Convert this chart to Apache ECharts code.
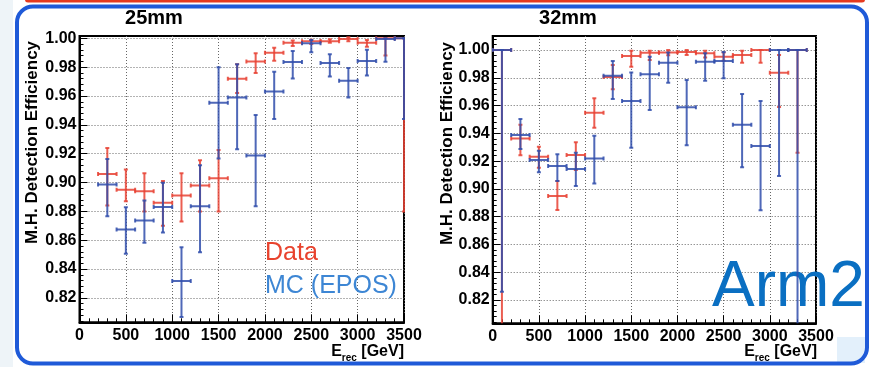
<!DOCTYPE html>
<html><head><meta charset="utf-8">
<script src="https://cdn.jsdelivr.net/npm/echarts@6/dist/echarts.min.js"></script>
<style>html,body{margin:0;padding:0;background:#fff;}#c{width:871px;height:367px;}</style>
</head><body><div id="c"></div>
<script>
// ---------- data ----------
const energyBins = [100,300,500,700,900,1100,1300,1500,1700,1900,2100,2300,2500,2700,2900,3100,3300,3500];
const binHalfWidth = 100;
const yTickLabels = [0.82,0.84,0.86,0.88,0.90,0.92,0.94,0.96,0.98,1.00];
const xTickLabels = [0,500,1000,1500,2000,2500,3000,3500];

// 25mm panel
const d25Val = [null,0.906,0.895,0.894,0.886,0.891,0.898,0.903,0.972,0.984,0.990,0.997,0.998,0.998,0.9995,0.997,1.000,1.000];
const d25Lo  = [null,0.884,0.887,0.880,0.870,0.873,0.880,0.880,0.962,0.976,0.9845,0.9947,0.996,0.997,0.998,0.9942,0.988,0.880];
const d25Hi  = [null,0.924,0.909,0.9065,0.901,0.9065,0.9155,0.9225,0.982,0.9896,0.9935,0.9984,0.999,0.9993,1.0007,0.9988,1.000,1.000];
const m25Val = [null,0.8986,0.8674,0.8736,0.8831,0.8317,0.8836,0.9553,0.959,0.9188,0.9632,0.9836,0.9965,0.9829,0.9706,0.9843,0.9995,1.000];
const m25Lo  = [null,0.8766,0.8507,0.8583,0.8653,0.8067,0.8516,0.9167,0.9231,0.8836,0.944,0.9722,0.9903,0.9736,0.959,0.9743,0.9838,0.944];
const m25Hi  = [null,0.9164,0.8829,0.8875,0.8998,0.8551,0.912,0.9799,0.982,0.9468,0.9769,0.9912,0.9988,0.9889,0.9794,0.9921,1.000,1.000];

// 32mm panel
const d32Val = [1.000,0.9362,0.9232,0.8949,0.9244,0.9549,0.9805,0.9957,0.9981,0.9983,0.9986,0.9976,0.9952,0.9964,1.000,0.9837,1.000,null];
const d32Lo  = [0.700,0.9242,0.9153,0.8848,0.9136,0.9441,0.9717,0.988,0.9928,0.9962,0.9964,0.9947,0.9923,0.9909,0.9909,0.959,0.926,null];
const d32Hi  = [1.000,0.9462,0.9304,0.9057,0.9335,0.9652,0.9892,0.9995,0.9995,1.000,1.000,0.9995,0.9983,0.9995,1.000,0.9964,1.000,null];
const m32Val = [1.000,0.9388,0.9208,0.9165,0.9143,0.9218,0.9815,0.9633,0.9825,0.9909,0.9587,0.9916,0.9921,0.9462,0.9309,1.000,1.000,null];
const m32Lo  = [0.826,0.9287,0.9119,0.9057,0.9021,0.9038,0.9647,0.9297,0.9568,0.9765,0.9314,0.9779,0.9796,0.9155,0.8846,0.9093,0.700,null];
const m32Hi  = [1.000,0.9503,0.9275,0.9249,0.9261,0.9383,0.9921,0.9839,0.9952,0.9983,0.9784,0.9976,0.9986,0.9683,0.9633,1.000,1.000,null];

// ---------- build ----------
const RED = 'rgba(232,66,52,0.85)';
const BLUE = 'rgba(48,78,172,0.85)';
const FONT = '"Liberation Sans", Arial, Helvetica, sans-serif';

function rows(val, lo, hi) {
  const out = [];
  energyBins.forEach((e, i) => { if (val[i] != null) out.push([e, val[i], lo[i], hi[i]]); });
  return out;
}
function errRender(color) {
  return function (params, api) {
    const x = api.value(0), y = api.value(1), lo = api.value(2), hi = api.value(3);
    const c = api.coord([x, y]), l = api.coord([x - binHalfWidth, y]), r = api.coord([x + binHalfWidth, y]);
    const a = api.coord([x, hi]), b = api.coord([x, lo]);
    const cap = 2;
    const st = { stroke: color, lineWidth: 2 };
    const ln = (x1, y1, x2, y2) => ({ type: 'line', shape: { x1, y1, x2, y2 }, style: st });
    return { type: 'group', children: [
      ln(l[0], c[1], r[0], c[1]),
      ln(c[0], a[1], c[0], b[1]),
      ln(l[0], c[1] - cap, l[0], c[1] + cap),
      ln(r[0], c[1] - cap, r[0], c[1] + cap),
      ln(c[0] - cap, a[1], c[0] + cap, a[1]),
      ln(c[0] - cap, b[1], c[0] + cap, b[1])
    ]};
  };
}
function minorVals(min, max) {
  const v = [];
  for (let k = Math.ceil(min / 0.004); k * 0.004 <= max + 1e-9; k++) {
    const t = +(k * 0.004).toFixed(4);
    if (Math.abs(t / 0.02 - Math.round(t / 0.02)) > 1e-6) v.push(t);
  }
  return v;
}
const grids = [
  { left: 79.5, top: 36, width: 324.5, height: 286.3, min: 0.8031, max: 1.0016 },
  { left: 492.7, top: 36, width: 323.3, height: 287.3, min: 0.8032, max: 1.0101 }
];
const gridOpt = [], xAxes = [], yAxes = [];
grids.forEach((g, i) => {
  gridOpt.push({ left: g.left, top: g.top, width: g.width, height: g.height, show: true,
    borderColor: '#000', borderWidth: 2, backgroundColor: 'transparent', containLabel: false });
  xAxes.push({ type: 'value', gridIndex: i, min: 0, max: 3500, interval: 500,
    axisLine: { show: true, lineStyle: { color: '#000', width: 2 } },
    axisTick: { show: true, inside: true, length: 8, lineStyle: { color: '#000', width: 1 } },
    minorTick: { show: true, splitNumber: 5, length: 4, lineStyle: { color: '#000', width: 1 } },
    axisLabel: { show: true, margin: 5, color: '#000', fontFamily: FONT, fontWeight: 'bold', fontSize: 16,
      showMinLabel: true, showMaxLabel: true, formatter: v => String(Math.round(v)) },
    splitLine: { show: true, lineStyle: { color: '#666', width: 1, type: [1, 2] } } });
  yAxes.push({ type: 'value', gridIndex: i, min: g.min, max: g.max, position: 'left',
    axisLine: { show: true, onZero: false, lineStyle: { color: '#000', width: 2 } },
    axisTick: { show: true, inside: true, length: 8, customValues: yTickLabels, lineStyle: { color: '#000', width: 1 } },
    axisLabel: { show: true, margin: 3, color: '#000', fontFamily: FONT, fontWeight: 'bold', fontSize: 16,
      customValues: yTickLabels, formatter: v => v.toFixed(2) },
    splitLine: { show: true, lineStyle: { color: '#666', width: 1, type: [1, 2] } } });
  yAxes.push({ type: 'value', gridIndex: i, min: g.min, max: g.max, position: 'left', offset: 0,
    axisLine: { show: false }, axisLabel: { show: false }, splitLine: { show: false },
    axisTick: { show: true, inside: true, length: 4, customValues: minorVals(g.min, g.max), lineStyle: { color: '#000', width: 1 } } });
});

const series = [
  { data: rows(d25Val, d25Lo, d25Hi), g: 0, color: RED, name: 'Data 25mm' },
  { data: rows(m25Val, m25Lo, m25Hi), g: 0, color: BLUE, name: 'MC 25mm' },
  { data: rows(d32Val, d32Lo, d32Hi), g: 1, color: RED, name: 'Data 32mm' },
  { data: rows(m32Val, m32Lo, m32Hi), g: 1, color: BLUE, name: 'MC 32mm' }
].map(s => ({ type: 'custom', name: s.name, xAxisIndex: s.g, yAxisIndex: s.g * 2, clip: true, z: 5,
  renderItem: errRender(s.color), encode: { x: 0, y: [1, 2, 3] }, data: s.data }));

const xName = (x) => ({ type: 'text', x: x, y: 352, z: 10,
  style: { text: '{a|E}{s|rec}{a| [GeV]}', align: 'right', verticalAlign: 'middle', fill: '#000',
    rich: { a: { fontFamily: FONT, fontWeight: 'bold', fontSize: 16, fill: '#000' },
            s: { fontFamily: FONT, fontWeight: 'bold', fontSize: 10, fill: '#000', padding: [12, 0, 0, 0] } } } });
const yName = (x, y) => ({ type: 'text', x: x, y: y, rotation: Math.PI / 2, z: 10,
  style: { text: 'M.H. Detection Efficiency', align: 'center', verticalAlign: 'middle', fill: '#000',
    font: 'bold 17px ' + FONT } });

const graphic = [
  { type: 'rect', shape: { x: 0, y: 0, width: 13, height: 367 }, style: { fill: '#eef4f8' }, z: 0 },
  { type: 'rect', shape: { x: 25, y: -4, width: 840, height: 6.5, r: 3 }, style: { fill: '#e63a1f' }, z: 0 },
  { type: 'rect', shape: { x: 837, y: 337, width: 28, height: 26 }, style: { fill: '#e3f0fb' }, z: 0 },
  { type: 'rect', shape: { x: 17, y: 6.5, width: 850, height: 357, r: 16 }, style: { fill: 'none', stroke: '#1f5ad8', lineWidth: 4 }, z: 0 },
  { type: 'text', x: 154, y: 18.5, z: 10, style: { text: '25mm', align: 'center', verticalAlign: 'middle', fill: '#000', font: 'bold 20px ' + FONT } },
  { type: 'text', x: 568, y: 18.5, z: 10, style: { text: '32mm', align: 'center', verticalAlign: 'middle', fill: '#000', font: 'bold 20px ' + FONT } },
  yName(32, 142.5), yName(447, 143.5),
  xName(404), xName(817),
  { type: 'text', x: 265, y: 253, z: 10, style: { text: 'Data', align: 'left', verticalAlign: 'middle', fill: '#e8432e', font: '25px ' + FONT } },
  { type: 'text', x: 265, y: 286, z: 10, style: { text: 'MC (EPOS)', align: 'left', verticalAlign: 'middle', fill: '#3d86d4', font: '25px ' + FONT } },
  { type: 'text', x: 712, y: 288, z: 1, style: { text: 'Arm2', align: 'left', verticalAlign: 'middle', fill: '#0a6fc2', font: '64px ' + FONT } }
];

const chart = echarts.init(document.getElementById('c'), null, { renderer: 'canvas' });
chart.setOption({ animation: false, backgroundColor: '#fff', grid: gridOpt, xAxis: xAxes, yAxis: yAxes, series: series, graphic: graphic });
</script></body></html>
